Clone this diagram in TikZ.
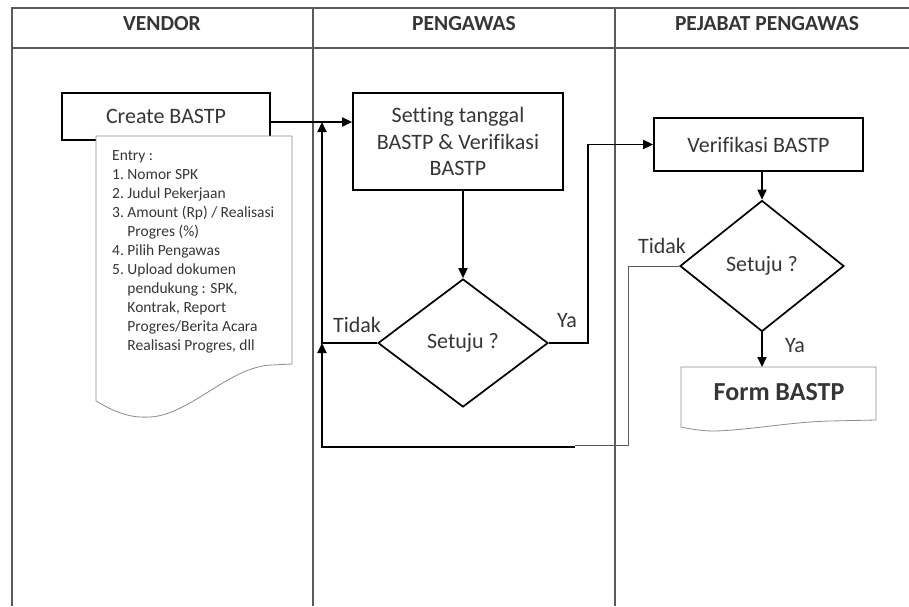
\documentclass[tikz,border=0pt]{standalone}
\usepackage{fontspec}
\setmainfont{Carlito}[Ligatures=NoCommon]
\usetikzlibrary{shapes.geometric,arrows.meta}

\definecolor{txt}{HTML}{363636}
\definecolor{lanegray}{HTML}{5A5A5A}
\definecolor{docgray}{HTML}{8C8C8C}

\tikzset{
  lane/.style={draw=lanegray, line width=1.1pt},
  headtext/.style={font=\fontsize{21.5}{25}\selectfont\bfseries, text=txt, anchor=base},
  procbox/.style={draw=black, line width=1.7pt, fill=white, text=txt, align=center,
    inner sep=0pt, font=\fontsize{22}{26.5}\selectfont},
  decision/.style={diamond, draw=black, line width=1.7pt, fill=white, text=txt,
    inner sep=0pt, font=\fontsize{22}{26}\selectfont},
  docshape/.style={draw=docgray, line width=0.8pt, fill=white},
  flow/.style={draw=black, line width=1.8pt, -{Triangle[length=10pt,width=9pt]}},
  thinflow/.style={draw=lanegray, line width=1pt},
  flowlabel/.style={text=txt, font=\fontsize{22}{26}\selectfont},
}

\begin{document}
\begin{tikzpicture}[x=1pt,y=-1pt]
\useasboundingbox (0,0) rectangle (909,606);
\fill[white] (0,0) rectangle (909,606);

% swimlanes
\draw[lane] (12,606) -- (12,8) -- (909,8);
\draw[lane] (12,48) -- (909,48);
\draw[lane] (313,8) -- (313,606);
\draw[lane] (615,8) -- (615,606);

\node[headtext] (hvendor) at (162,30) {VENDOR};
\node[headtext] (hpengawas) at (464,30) {PENGAWAS};
\node[headtext] (hpejabat) at (767,30) {PEJABAT PENGAWAS};

% helper rows and columns for the connectors
\coordinate (row1) at (0,122);
\coordinate (loopx) at (322,0);
\coordinate (yax) at (588,0);
\coordinate (retx) at (628,0);
\coordinate (retlow) at (0,445);
\coordinate (retstep) at (575,0);
\coordinate (retbot) at (0,447);
\coordinate (formtop) at (0,367);

% vendor lane
\node[procbox, minimum width=208pt, minimum height=47pt] (create) at (166,116.5) {Create BASTP};

\path[docshape] (96,136) -- (292,136) -- (292,364) -- (272,365)
  .. controls (230,366) and (190,415) .. (150,417)
  .. controls (132,418) and (118,414) .. (96,401) -- cycle;

\node[anchor=base west, inner sep=0pt, text=txt, font=\fontsize{15.5}{19}\selectfont] (entry) at (112,160)
 {\begin{tabular}[t]{@{}l@{\hspace{3.5pt}}l@{}}
  \multicolumn{2}{@{}l}{Entry :}\\
  1. & Nomor SPK\\
  2. & Judul Pekerjaan\\
  3. & Amount (Rp) / Realisasi\\
     & Progres (\%)\\
  4. & Pilih Pengawas\\
  5. & Upload dokumen\\
     & pendukung : SPK,\\
     & Kontrak, Report\\
     & Progres/Berita Acara\\
     & Realisasi Progres, dll
 \end{tabular}};

% pengawas lane
\node[procbox, minimum width=210pt, minimum height=97pt] (setting) at (458,141.5)
  {Setting tanggal\\BASTP \& Verifikasi\\BASTP};
\node[decision, minimum width=170pt, minimum height=128pt] (d1) at (463,343) {Setuju ?};

% pejabat pengawas lane
\node[procbox, minimum width=209pt, minimum height=53pt] (verif) at (758.5,144.5) {Verifikasi BASTP};
\node[decision, minimum width=164pt, minimum height=131pt] (d2) at (762,266) {Setuju ?};

\path[docshape] (681,367) -- (876,367) -- (876,420) -- (830,421)
  .. controls (790,422) and (750,430) .. (715,431)
  .. controls (705,431) and (695,430) .. (681,427) -- cycle;
\node[text=txt, font=\fontsize{26}{31}\selectfont\bfseries, anchor=base] (form) at (779,400) {Form BASTP};

% connectors
\draw[flow] (create.east |- row1) -- (setting.west |- row1);
\draw[flow] (setting.south -| d1.north) -- (d1.north);
\draw[flow] (d1.west) -| (loopx |- row1);
\draw[flow] (d1.east) -- (d1.east -| yax) |- (verif.west);
\draw[flow] (verif.south -| d2.north) -- (d2.north);
\draw[flow] (d2.south) -- (d2.south |- formtop);
\draw[thinflow] (d2.west) -| (retx |- retlow) -- (retstep |- retlow);
\draw[flow] (retstep |- retbot) -| (loopx |- d1.west);

% branch labels
\node[flowlabel] (tidak1) at (357,325) {Tidak};
\node[flowlabel] (ya1) at (567,321) {Ya};
\node[flowlabel] (tidak2) at (662,246) {Tidak};
\node[flowlabel] (ya2) at (795,346) {Ya};
\end{tikzpicture}
\end{document}
